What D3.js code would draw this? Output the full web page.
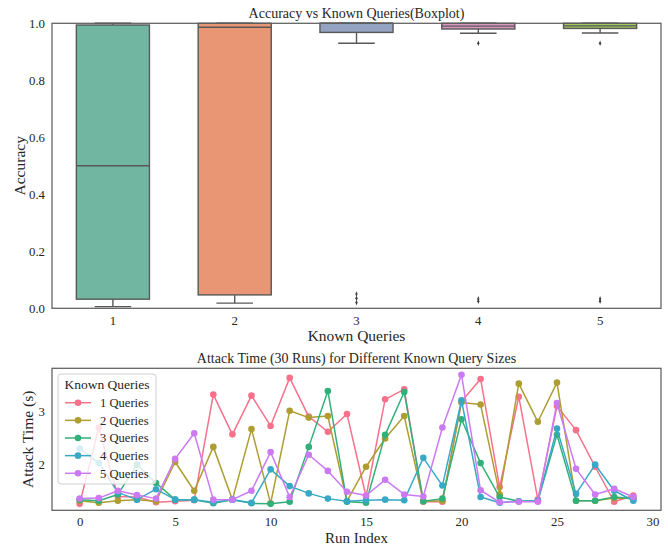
<!DOCTYPE html>
<html>
<head>
<meta charset="utf-8">
<script src="https://cdn.jsdelivr.net/npm/d3@7"></script>
<style>
  html, body { margin: 0; padding: 0; background: #fff; }
  svg { display: block; }
  text { font-family: "Liberation Serif", "Times New Roman", serif; fill: #262626; }
</style>
</head>
<body>
<svg id="chart" width="668" height="545"></svg>
<script>
// ---- Accuracy distribution per number of known queries (box statistics) ----
const knownQueries = ["1", "2", "3", "4", "5"];
const boxQ1      = [0.032, 0.047, 0.968, 0.980, 0.982];
const boxMedian  = [0.500, 0.986, 1.000, 0.990, 0.991];
const boxQ3      = [0.994, 1.000, 1.000, 1.000, 1.000];
const whiskerLow = [0.006, 0.018, 0.930, 0.965, 0.966];
const whiskerHigh= [1.000, 1.000, 1.000, 1.000, 1.000];
const outliers   = [[], [], [0.050, 0.035, 0.020], [0.930, 0.033, 0.025], [0.930, 0.033, 0.025]];
const boxColors  = ["#71b6a1", "#e99675", "#95a3c3", "#db96c0", "#a2c864"];
const accuracyTicks = [0.0, 0.2, 0.4, 0.6, 0.8, 1.0];

// ---- Attack time over 30 runs, one series per known-query size ----
const runIndex = d3.range(30);
const seriesNames = ["1 Queries", "2 Queries", "3 Queries", "4 Queries", "5 Queries"];
const time1 = [1.24, 2.70, 1.38, 1.37, 1.27, 1.29, 1.31, 3.33, 2.57, 3.31, 2.73, 3.65, 2.91, 2.62, 2.96,
               1.38, 3.24, 3.43, 1.28, 1.28, 3.20, 3.63, 1.56, 3.29, 1.32, 3.11, 2.65, 1.95, 1.28, 1.40];
const time2 = [1.30, 1.26, 1.30, 1.32, 1.29, 2.04, 1.49, 2.33, 1.32, 2.67, 1.25, 3.02, 2.89, 2.92, 1.29,
               1.95, 2.49, 2.92, 1.29, 1.30, 3.18, 3.14, 1.42, 3.54, 2.81, 3.56, 1.30, 1.30, 1.35, 1.34];
const time3 = [1.32, 1.30, 1.42, 1.99, 1.64, 1.32, 1.32, 1.25, 1.32, 1.25, 1.24, 1.28, 2.33, 3.40, 1.28,
               1.26, 2.56, 3.38, 1.29, 1.34, 2.86, 2.02, 1.37, 1.29, 1.30, 2.56, 1.30, 1.30, 1.37, 1.34];
const time4 = [2.30, 2.02, 1.46, 1.32, 1.52, 1.32, 1.32, 1.27, 1.32, 1.26, 1.90, 1.58, 1.44, 1.34, 1.29,
               1.31, 1.32, 1.31, 2.12, 1.59, 3.22, 1.37, 1.26, 1.29, 1.30, 2.68, 1.43, 1.99, 1.49, 1.30];
const time5 = [1.34, 1.35, 1.49, 1.41, 1.34, 2.10, 2.59, 1.32, 1.32, 1.49, 2.23, 1.37, 2.18, 1.87, 1.47,
               1.40, 1.70, 1.42, 1.38, 2.70, 3.71, 1.50, 1.27, 1.28, 1.28, 3.17, 1.91, 1.42, 1.53, 1.37];
const seriesValues = [time1, time2, time3, time4, time5];
const lineColors = ["#f7718a", "#ae9d31", "#33b07a", "#38a9c5", "#cc7af4"];
const runTicks = [0, 5, 10, 15, 20, 25, 30];
const timeTicks = [2, 3];

const svg = d3.select("#chart");
const spineColor = "#5f5f5f";
const boxLine = "#585858";
const tickFont = 12.8;

function drawFrame(g, w, h) {
  g.append("rect").attr("x", 0).attr("y", 0).attr("width", w).attr("height", h)
    .attr("fill", "none").attr("stroke", spineColor).attr("stroke-width", 1.25);
}
function styleTicks(sel) {
  sel.call(a => a.select(".domain").remove());
  sel.attr("font-family", "Liberation Serif, serif");
  sel.selectAll("text").attr("font-size", tickFont).attr("fill", "#262626");
}

// ================= Top panel: boxplot =================
const panelA = { left: 52, right: 661, top: 23.3, bottom: 308.3 };
const gTop = svg.append("g").attr("transform", `translate(${panelA.left},${panelA.top})`);
const wTop = panelA.right - panelA.left, hTop = panelA.bottom - panelA.top;

const xBand = d3.scaleBand().domain(knownQueries).range([0, wTop]).padding(0);
const yAcc = d3.scaleLinear().domain([0, 1]).range([hTop, 0]);

const boxW = xBand.bandwidth() * 0.6;
knownQueries.forEach((k, i) => {
  const cx = xBand(k) + xBand.bandwidth() / 2;
  const g = gTop.append("g");
  // whiskers
  g.append("line").attr("x1", cx).attr("x2", cx)
    .attr("y1", yAcc(boxQ1[i])).attr("y2", yAcc(whiskerLow[i]))
    .attr("stroke", boxLine).attr("stroke-width", 1.4);
  g.append("line").attr("x1", cx).attr("x2", cx)
    .attr("y1", yAcc(boxQ3[i])).attr("y2", yAcc(whiskerHigh[i]))
    .attr("stroke", boxLine).attr("stroke-width", 1.4);
  // caps
  [whiskerLow[i], whiskerHigh[i]].forEach(v => {
    g.append("line").attr("x1", cx - boxW / 4).attr("x2", cx + boxW / 4)
      .attr("y1", yAcc(v)).attr("y2", yAcc(v))
      .attr("stroke", boxLine).attr("stroke-width", 1.4);
  });
  // box
  g.append("rect").attr("x", cx - boxW / 2).attr("width", boxW)
    .attr("y", yAcc(boxQ3[i])).attr("height", yAcc(boxQ1[i]) - yAcc(boxQ3[i]))
    .attr("fill", boxColors[i]).attr("stroke", boxLine).attr("stroke-width", 1.4);
  // median
  g.append("line").attr("x1", cx - boxW / 2).attr("x2", cx + boxW / 2)
    .attr("y1", yAcc(boxMedian[i])).attr("y2", yAcc(boxMedian[i]))
    .attr("stroke", boxLine).attr("stroke-width", 1.4);
  // outliers as small diamonds
  outliers[i].forEach(v => {
    g.append("path")
      .attr("d", d3.symbol().type(d3.symbolDiamond).size(9)())
      .attr("transform", `translate(${cx},${yAcc(v)}) scale(0.7,1)`)
      .attr("fill", "#3f3f3f");
  });
});
drawFrame(gTop, wTop, hTop);

gTop.append("g")
  .call(d3.axisLeft(yAcc).tickValues(accuracyTicks).tickFormat(d3.format(".1f")).tickSize(0).tickPadding(7))
  .call(styleTicks);
gTop.append("g").attr("transform", `translate(0,${hTop})`)
  .call(d3.axisBottom(xBand).tickSize(0).tickPadding(8))
  .call(styleTicks);

svg.append("text").attr("x", (panelA.left + panelA.right) / 2).attr("y", 18.3)
  .attr("text-anchor", "middle").attr("font-size", 14).text("Accuracy vs Known Queries(Boxplot)");
svg.append("text").attr("x", (panelA.left + panelA.right) / 2).attr("y", 341)
  .attr("text-anchor", "middle").attr("font-size", 15.5).text("Known Queries");
svg.append("text").attr("transform", `translate(24.5,${(panelA.top + panelA.bottom) / 2}) rotate(-90)`)
  .attr("text-anchor", "middle").attr("font-size", 15.5).text("Accuracy");

// ================= Bottom panel: attack time lines =================
const panelB = { left: 52, right: 661, top: 368.3, bottom: 510.3 };
const gBot = svg.append("g").attr("transform", `translate(${panelB.left},${panelB.top})`);
const wBot = panelB.right - panelB.left, hBot = panelB.bottom - panelB.top;

const xExt = d3.extent(runIndex);
const xPad = (xExt[1] - xExt[0]) * 0.05;
const xRun = d3.scaleLinear().domain([xExt[0] - xPad, xExt[1] + xPad]).range([0, wBot]);
const allT = seriesValues.flat();
const tMin = d3.min(allT), tMax = d3.max(allT), tPad = (tMax - tMin) * 0.05;
const yTime = d3.scaleLinear().domain([tMin - tPad, tMax + tPad]).range([hBot, 0]);

const line = d3.line().x((d, i) => xRun(runIndex[i])).y(d => yTime(d));
seriesValues.forEach((vals, s) => {
  const g = gBot.append("g");
  g.append("path").datum(vals).attr("d", line)
    .attr("fill", "none").attr("stroke", lineColors[s]).attr("stroke-width", 1.5)
    .attr("stroke-linejoin", "round");
  g.selectAll("circle").data(vals).join("circle")
    .attr("cx", (d, i) => xRun(runIndex[i])).attr("cy", d => yTime(d))
    .attr("r", 3.3).attr("fill", lineColors[s]);
});

// legend
const lg = gBot.append("g").attr("transform", `translate(${58 - panelB.left},${374 - panelB.top})`);
lg.append("rect").attr("x", 0).attr("y", 0).attr("width", 98).attr("height", 110)
  .attr("rx", 3).attr("fill", "#fff").attr("fill-opacity", 0.8)
  .attr("stroke", "#d0d0d0").attr("stroke-width", 1);
lg.append("text").attr("x", 49).attr("y", 15.2).attr("text-anchor", "middle")
  .attr("font-size", 13.5).text("Known Queries");
seriesNames.forEach((name, s) => {
  const cy = 28.7 + s * 17.65;
  lg.append("line").attr("x1", 7).attr("x2", 33).attr("y1", cy).attr("y2", cy)
    .attr("stroke", lineColors[s]).attr("stroke-width", 1.5);
  lg.append("circle").attr("cx", 20).attr("cy", cy).attr("r", 3.3).attr("fill", lineColors[s]);
  lg.append("text").attr("x", 42).attr("y", cy + 4.3).attr("font-size", 12.6).text(name);
});

drawFrame(gBot, wBot, hBot);

gBot.append("g").attr("transform", `translate(0,${hBot})`)
  .call(d3.axisBottom(xRun).tickValues(runTicks).tickSize(0).tickPadding(7))
  .call(styleTicks);
gBot.append("g")
  .call(d3.axisLeft(yTime).tickValues(timeTicks).tickFormat(d3.format("d")).tickSize(0).tickPadding(7))
  .call(styleTicks);

svg.append("text").attr("x", (panelB.left + panelB.right) / 2).attr("y", 543)
  .attr("text-anchor", "middle").attr("font-size", 15).text("Run Index");
svg.append("text").attr("x", (panelB.left + panelB.right) / 2).attr("y", 363.3)
  .attr("text-anchor", "middle").attr("font-size", 14).text("Attack Time (30 Runs) for Different Known Query Sizes");
svg.append("text").attr("transform", `translate(32.5,${(panelB.top + panelB.bottom) / 2}) rotate(-90)`)
  .attr("text-anchor", "middle").attr("font-size", 15.5).text("Attack Time (s)");
</script>
</body>
</html>
